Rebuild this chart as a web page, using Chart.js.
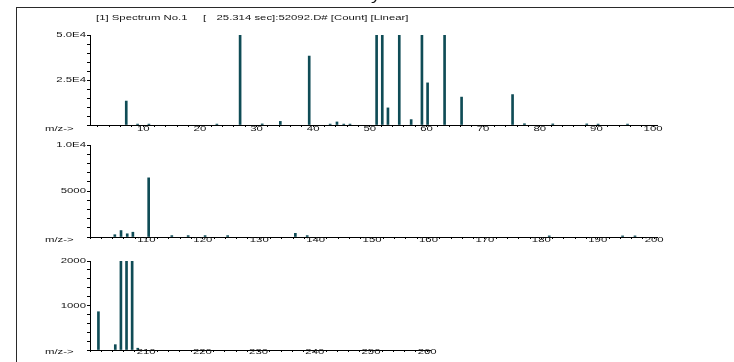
<!DOCTYPE html>
<html>
<head>
<meta charset="utf-8">
<script src="https://cdn.jsdelivr.net/npm/chart.js@4"></script>
<style>
  html, body { margin: 0; padding: 0; background: #fff; }
  #page { position: relative; width: 734px; height: 362px; overflow: hidden; background: #fff; }
  #page canvas { position: absolute; left: 0; }
  .rule-top { position: absolute; left: 16px; top: 7px; width: 718px; height: 1px; background: #2a2a2a; }
  .rule-left { position: absolute; left: 16px; top: 7px; width: 1px; height: 355px; background: #2a2a2a; }
</style>
</head>
<body>
<div id="page">
  <div class="rule-top"></div>
  <div class="rule-left"></div>
  <canvas id="panelLow" width="734" height="140" style="top:0px"></canvas>
  <canvas id="panelMid" width="734" height="124" style="top:128px"></canvas>
  <canvas id="panelHigh" width="734" height="112" style="top:250px"></canvas>
</div>
<script>
// ---- spectrum data: centroid m/z values and abundances (counts) per range ----
const mzLow = [7, 9, 11, 23, 27.1, 31, 34.2, 39.3, 43, 44.2, 45.4, 46.5, 51.2, 52.2, 53.2, 55.2, 57.3, 59.2, 60.2, 63.2, 66.2, 75.2, 77.3, 82.3, 88.3, 90.3, 95.5];
const countLow = [13300, 500, 500, 500, 50000, 600, 2000, 38300, 500, 1700, 500, 500, 50000, 50000, 9500, 50000, 3000, 50000, 23400, 50000, 15500, 16900, 700, 600, 600, 500, 500];

const mzMid = [104.4, 105.5, 106.6, 107.6, 110.4, 114.5, 117.4, 120.4, 124.4, 136.4, 138.5, 181.4, 194.4, 196.6];
const countMid = [250, 700, 350, 520, 6430, 150, 150, 150, 150, 400, 150, 120, 120, 120];

const mzHigh = [201.5, 204.5, 205.5, 206.5, 207.5, 208.5];
const countHigh = [860, 120, 2000, 2000, 2000, 40];

// ---- axis ranges and labelled ticks ----
const xRangeLow = [0.6, 100.7];
const xRangeMid = [100, 200.5];
const xRangeHigh = [200, 260.5];

const yMaxLow = 50000, yStepLow = 5000;
const yMaxMid = 10000, yStepMid = 1000;
const yMaxHigh = 2000, yStepHigh = 200;

const yTickValuesLow = [50000, 25000];
const yTickTextLow = ['5.0E4', '2.5E4'];
const yTickValuesMid = [10000, 5000];
const yTickTextMid = ['1.0E4', '5000'];
const yTickValuesHigh = [2000, 1000];
const yTickTextHigh = ['2000', '1000'];

const xLabelEvery = 10;
const axisName = 'm/z->';
const titleLeft = '[1] Spectrum No.1';
const titleBracket = '[';
const titleRight = '25.314 sec]:52092.D# [Count] [Linear]';

// ---- styling ----
const BAR = '#0f4c56';
const INK = '#141414';
const FONT = '8px "Liberation Sans", Arial, Helvetica, sans-serif';
const STRETCH = 1.42;   // text in this printout is horizontally widened

function wideText(ctx, text, x, y, align) {
  ctx.save();
  ctx.translate(x, y);
  ctx.scale(STRETCH, 1);
  ctx.textAlign = align;
  ctx.textBaseline = 'middle';
  ctx.fillText(text, 0, 0);
  ctx.restore();
}

function makePanel(cfg) {
  const canvas = document.getElementById(cfg.id);
  const points = cfg.mz.map((m, i) => ({ x: m, y: cfg.counts[i] }));

  const labelPlugin = {
    id: 'axisText',
    afterDraw(chart) {
      const ctx = chart.ctx;
      const xs = chart.scales.x, ys = chart.scales.y;
      ctx.save();
      ctx.fillStyle = INK;
      ctx.font = FONT;
      const ly = cfg.labelY - cfg.top;
      xs.ticks.forEach(t => {
        const v = Math.round(t.value * 1000) / 1000;
        if (v % xLabelEvery === 0 && v > cfg.xRange[0]) {
          wideText(ctx, String(v), xs.getPixelForValue(v), ly, 'center');
        }
      });
      cfg.yValues.forEach((v, i) => {
        wideText(ctx, cfg.yText[i], xs.left - 4, ys.getPixelForValue(v), 'right');
      });
      wideText(ctx, axisName, 45, ly, 'left');
      if (cfg.title) {
        wideText(ctx, titleLeft, 96, 18 - cfg.top, 'left');
        wideText(ctx, titleBracket, 203, 18 - cfg.top, 'left');
        wideText(ctx, titleRight, 216.5, 18 - cfg.top, 'left');
        ctx.font = '13px "Liberation Sans", Arial, sans-serif';
        ctx.save();
        ctx.translate(371, 0);
        ctx.scale(STRETCH, 1);
        ctx.textAlign = 'left';
        ctx.textBaseline = 'alphabetic';
        ctx.fillText('y', 0, 0);
        ctx.restore();
      }
      ctx.restore();
    }
  };

  return new Chart(canvas, {
    type: 'bar',
    data: {
      datasets: [{
        data: points,
        backgroundColor: BAR,
        borderWidth: 0,
        barThickness: 2,
        grouped: false
      }]
    },
    options: {
      responsive: false,
      animation: false,
      devicePixelRatio: 1,
      events: [],
      layout: {
        padding: { top: cfg.areaTop - cfg.top, right: 734 - cfg.areaRight, left: 0, bottom: 0 }
      },
      plugins: { legend: { display: false }, tooltip: { enabled: false }, title: { display: false } },
      scales: {
        x: {
          type: 'linear',
          min: cfg.xRange[0],
          max: cfg.xRange[1],
          offset: false,
          ticks: { display: false, stepSize: 2, includeBounds: false, autoSkip: false },
          grid: { display: true, offset: false, drawOnChartArea: false, drawTicks: true, tickLength: 2, color: '#000', lineWidth: 1 },
          border: { display: true, color: '#000', width: 1 },
          afterFit(scale) { scale.height = cfg.top + cfg.height - cfg.areaBottom; }
        },
        y: {
          type: 'linear',
          min: 0,
          max: cfg.yMax,
          ticks: { display: false, stepSize: cfg.yStep },
          grid: { display: true, drawOnChartArea: false, drawTicks: true, tickLength: 3, color: '#000', lineWidth: 1 },
          border: { display: true, color: '#000', width: 1 },
          afterFit(scale) { scale.width = 90; }
        }
      }
    },
    plugins: [labelPlugin]
  });
}

makePanel({
  id: 'panelLow', top: 0, height: 140,
  areaTop: 35, areaBottom: 125, areaRight: 657, labelY: 129,
  mz: mzLow, counts: countLow, xRange: xRangeLow,
  yMax: yMaxLow, yStep: yStepLow, yValues: yTickValuesLow, yText: yTickTextLow,
  title: true
});
makePanel({
  id: 'panelMid', top: 128, height: 124,
  areaTop: 145, areaBottom: 237, areaRight: 657, labelY: 240,
  mz: mzMid, counts: countMid, xRange: xRangeMid,
  yMax: yMaxMid, yStep: yStepMid, yValues: yTickValuesMid, yText: yTickTextMid,
  title: false
});
makePanel({
  id: 'panelHigh', top: 250, height: 112,
  areaTop: 261, areaBottom: 350, areaRight: 430, labelY: 352,
  mz: mzHigh, counts: countHigh, xRange: xRangeHigh,
  yMax: yMaxHigh, yStep: yStepHigh, yValues: yTickValuesHigh, yText: yTickTextHigh,
  title: false
});
</script>
</body>
</html>
